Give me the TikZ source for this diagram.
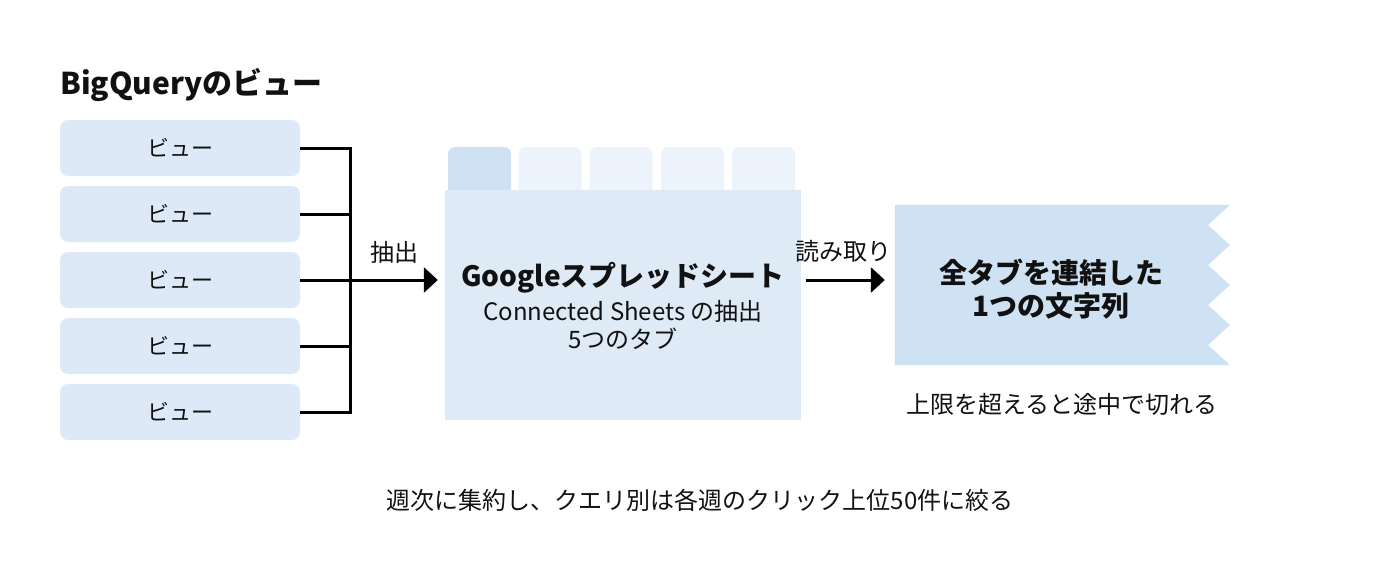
\documentclass[tikz,border=0pt]{standalone}
\usepackage{fontspec}
\setmainfont{Noto Sans CJK JP}
\usetikzlibrary{arrows.meta}
\definecolor{boxfill}{HTML}{DDE9F6}
\definecolor{sheetfill}{HTML}{DEEAF6}
\definecolor{tabdark}{HTML}{CFE2F3}
\definecolor{tablight}{HTML}{ECF3FB}
\definecolor{ribfill}{HTML}{CFE2F3}
\definecolor{ink}{HTML}{111111}
\tikzset{
  viewbox/.style={fill=boxfill, rounded corners=8pt, minimum width=240pt, minimum height=56pt, inner sep=0pt, text=ink, font=\fontsize{22}{26}\selectfont},
  tabbox/.style={rounded corners=7pt, minimum width=63pt, minimum height=55pt, inner sep=0pt},
  conn/.style={line width=3pt, draw=black},
  arr/.style={conn, -{Triangle[length=14pt,width=25pt]}},
  lbl/.style={font=\fontsize{24}{28}\selectfont, text=ink, inner sep=0pt},
  boldlbl/.style={font=\fontsize{28}{33}\selectfont\bfseries, text=ink, inner sep=0pt, align=center},
}
\begin{document}
\begin{tikzpicture}[x=1pt,y=-1pt]
\useasboundingbox (0,0) rectangle (1400,570);
% title
\node[anchor=west, font=\fontsize{30}{35}\selectfont\bfseries, text=ink, inner sep=0pt] (title) at (60,85) {BigQueryのビュー};
% view boxes
\foreach \i/\y in {1/148,2/214,3/280,4/346,5/412}{
  \node[viewbox] (v\i) at (180,\y) {ビュー};
}
% tabs
\node[tabbox, fill=tabdark] (tab1) at (479.5,174.5) {};
\node[tabbox, fill=tablight] (tab2) at (550,174.5) {};
\node[tabbox, fill=tablight] (tab3) at (621,174.5) {};
\node[tabbox, fill=tablight] (tab4) at (692.5,174.5) {};
\node[tabbox, fill=tablight] (tab5) at (763.5,174.5) {};
% sheet
\node[fill=sheetfill, minimum width=356pt, minimum height=230pt, inner sep=0pt] (sheet) at (623,305) {};
\node[boldlbl] (sheettitle) at (623,278) {Googleスプレッドシート};
\node[lbl] (sheetsub) at (623,311) {Connected Sheets の抽出};
\node[lbl] (sheettabs) at (623,339) {5つのタブ};
% bus connectors
\coordinate (bus) at (350,280);
\draw[conn] (v1.east) -| (bus);
\draw[conn] (v5.east) -| (bus);
\draw[conn] (v2.east) -- (v2.east -| bus);
\draw[conn] (v4.east) -- (v4.east -| bus);
\draw[arr, shorten >=7pt] (v3.east) -- (v3.east -| sheet.west);
\node[lbl] (extract) at (394,252) {抽出};
% ribbon
\node[minimum width=335pt, minimum height=160pt, inner sep=0pt] (ribbon) at (1062.5,285) {};
\fill[ribfill] (ribbon.north west) -- (ribbon.north east)
  -- (1208,225) -- (1230,245) -- (1208,265) -- (1230,285) -- (1208,305) -- (1230,325) -- (1208,345)
  -- (ribbon.south east) -- (ribbon.south west) -- cycle;
\node[boldlbl] (ribtext) at (1051,289) {全タブを連結した\\1つの文字列};
\draw[arr, shorten <=5pt, shorten >=10pt] (v3.east -| sheet.east) -- (v3.east -| ribbon.west);
\node[lbl] (read) at (843,251) {読み取り};
\node[lbl] (limit) at (1062,404) {上限を超えると途中で切れる};
% bottom note
\node[lbl] (note) at (700,500) {週次に集約し、クエリ別は各週のクリック上位50件に絞る};
\end{tikzpicture}
\end{document}
